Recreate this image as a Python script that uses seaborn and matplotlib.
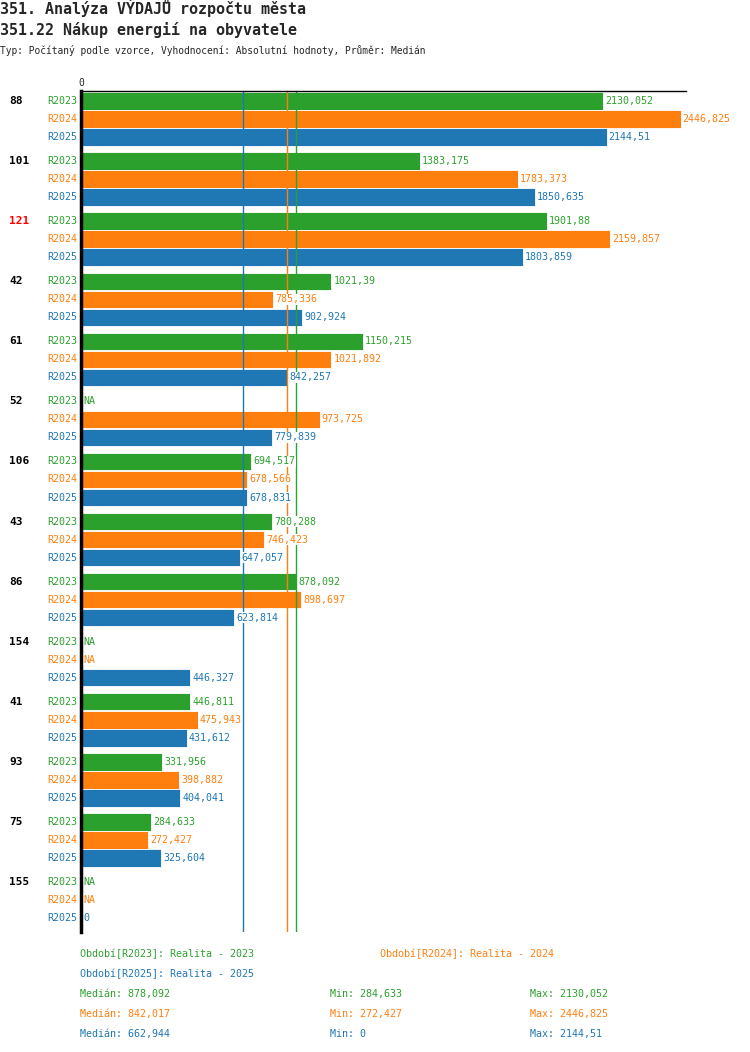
import numpy as np
import pandas as pd
import matplotlib
matplotlib.use("Agg")
import matplotlib.pyplot as plt
import matplotlib.transforms as mtransforms
import seaborn as sns

# =========================
# DATA
# =========================
obce = ["88", "101", "121", "42", "61", "52", "106", "43", "86", "154", "41", "93", "75", "155"]
obdobi = ["R2023", "R2024", "R2025"]
r2023 = [2130.052, 1383.175, 1901.88, 1021.39, 1150.215, np.nan, 694.517, 780.288, 878.092,
         np.nan, 446.811, 331.956, 284.633, np.nan]
r2024 = [2446.825, 1783.373, 2159.857, 785.336, 1021.892, 973.725, 678.566, 746.423, 898.697,
         np.nan, 475.943, 398.882, 272.427, np.nan]
r2025 = [2144.51, 1850.635, 1803.859, 902.924, 842.257, 779.839, 678.831, 647.057, 623.814,
         446.327, 431.612, 404.041, 325.604, 0.0]
popisky = ["Období[R2023]: Realita - 2023", "Období[R2024]: Realita - 2024", "Období[R2025]: Realita - 2025"]
zvyraznena_obec = "121"

barvy = {"R2023": "#2ca02c", "R2024": "#ff7f0e", "R2025": "#1f77b4"}
serie = {"R2023": r2023, "R2024": r2024, "R2025": r2025}

df = pd.DataFrame([
    {"obec": o, "obdobi": k, "hodnota": v}
    for k in obdobi for o, v in zip(obce, serie[k])
])


def fmt(v):
    if pd.isna(v):
        return "NA"
    return ("%.3f" % (v + 1e-9)).rstrip("0").rstrip(".").replace(".", ",")


# =========================
# STYLE
# =========================
sns.set_style("white")
plt.rcParams["font.family"] = ["DejaVu Sans Mono", "DejaVu Sans"]

W, H = 750, 1052
fig = plt.figure(figsize=(W / 100, H / 100), dpi=100)
ax_left, ax_right, ax_top, ax_bottom = 81, 686, 91, 932
ax = fig.add_axes([ax_left / W, 1 - ax_bottom / H, (ax_right - ax_left) / W, (ax_bottom - ax_top) / H])

sns.barplot(
    data=df.dropna(), x="hodnota", y="obec", hue="obdobi",
    order=obce, hue_order=obdobi, palette=barvy, orient="h",
    width=0.9, gap=0.03, errorbar=None, legend=False, saturation=1,
    edgecolor="white", linewidth=0.6, ax=ax,
)

max_all = df["hodnota"].max()
ax.set_xlim(0, max_all * 1.009)
ax.set_ylim(len(obce) - 0.5 + 0.033, -0.467)

# median lines (over the bars, under the value labels)
for k in obdobi:
    ax.axvline(np.nanmedian(serie[k]), color=barvy[k], lw=1, zorder=2)

# spines and ticks
for s in ["right", "bottom"]:
    ax.spines[s].set_visible(False)
ax.spines["top"].set_color("black")
ax.spines["top"].set_linewidth(1)
ax.spines["left"].set_color("black")
ax.spines["left"].set_linewidth(2.5)
ax.spines["left"].set_zorder(4)
ax.set_yticks([])
ax.xaxis.tick_top()
ax.set_xticks([0])
ax.set_xticklabels(["0"])
ax.tick_params(axis="x", length=0, pad=2, labelsize=7)
ax.set_xlabel("")
ax.set_ylabel("")

# labels
fig_y = mtransforms.blended_transform_factory(fig.transFigure, ax.transData)
offsets = {"R2023": -0.3, "R2024": 0.0, "R2025": 0.3}
for i, o in enumerate(obce):
    ax.text(9 / W, i - 0.3, o, transform=fig_y, ha="left", va="center",
            fontsize=8, fontweight="bold",
            color="red" if o == zvyraznena_obec else "black")
    for k in obdobi:
        y = i + offsets[k]
        v = serie[k][i]
        ax.annotate(k, xy=(0, y), xycoords=("axes fraction", "data"),
                    xytext=(-2.5, 0), textcoords="offset points",
                    ha="right", va="center", fontsize=7.2, color=barvy[k])
        ax.annotate(fmt(v), xy=(0 if pd.isna(v) else v, y), xycoords="data",
                    xytext=(1.5, 0), textcoords="offset points",
                    ha="left", va="center", fontsize=7.2, color=barvy[k], zorder=3,
                    bbox=dict(facecolor="white", edgecolor="none", pad=0.2))

# titles
fig.text(0, 1 - 8 / H, "351. Analýza VÝDAJŮ rozpočtu města", fontsize=10.8, fontweight="bold",
         ha="left", va="center")
fig.text(0, 1 - 30 / H, "351.22 Nákup energií na obyvatele", fontsize=10.8, fontweight="bold",
         ha="left", va="center")
fig.text(0, 1 - 50 / H, "Typ: Počítaný podle vzorce, Vyhodnocení: Absolutní hodnoty, Průměr: Medián",
         fontsize=6.9, ha="left", va="center")

# footer
fig.text(80 / W, 1 - 954 / H, popisky[0], fontsize=7.2, color=barvy["R2023"], va="center")
fig.text(380 / W, 1 - 954 / H, popisky[1], fontsize=7.2, color=barvy["R2024"], va="center")
fig.text(80 / W, 1 - 974 / H, popisky[2], fontsize=7.2, color=barvy["R2025"], va="center")
for j, k in enumerate(obdobi):
    yy = 1 - (994 + 20 * j) / H
    vals = serie[k]
    fig.text(80 / W, yy, "Medián: " + fmt(np.nanmedian(vals)), fontsize=7.2, color=barvy[k], va="center")
    fig.text(330 / W, yy, "Min: " + fmt(np.nanmin(vals)), fontsize=7.2, color=barvy[k], va="center")
    fig.text(530 / W, yy, "Max: " + fmt(np.nanmax(vals)), fontsize=7.2, color=barvy[k], va="center")

fig.savefig("out.png", dpi=100)
